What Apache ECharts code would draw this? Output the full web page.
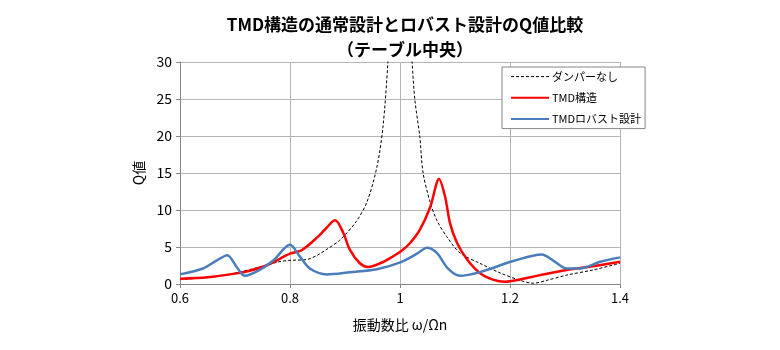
<!DOCTYPE html>
<html>
<head>
<meta charset="utf-8">
<script src="https://cdn.jsdelivr.net/npm/echarts@6/dist/echarts.min.js"></script>
<style>
  html, body { margin: 0; padding: 0; background: #fff; }
  #chart { width: 780px; height: 350px; }
</style>
</head>
<body>
<div id="chart"></div>
<script>
// 凡例名
const seriesNames = ['ダンパーなし', 'TMD構造', 'TMDロバスト設計'];

// ダンパーなし (共振で30を超える)
const noDamperX = [0.6, 0.65, 0.7, 0.74, 0.78, 0.8, 0.83, 0.85, 0.867, 0.89, 0.92, 0.94, 0.958, 0.969, 0.978, 0.99, 1.0,
    1.01, 1.022, 1.027, 1.036, 1.042, 1.055, 1.067, 1.085, 1.109, 1.145, 1.182, 1.218, 1.242, 1.267, 1.303, 1.351, 1.4];
const noDamperY = [0.6, 0.9, 1.5, 2.2, 3.0, 3.2, 3.3, 3.9, 4.7, 5.9, 8.4, 11.1, 15.8, 21.2, 29.9, 45, 60,
    45, 30, 24.9, 19.9, 15.0, 11.0, 8.6, 6.4, 4.2, 2.8, 1.5, 0.5, 0.1, 0.5, 1.2, 1.9, 2.8];

// TMD構造 (通常設計)
const tmdX = [0.6, 0.65, 0.7, 0.727, 0.76, 0.8, 0.822, 0.851, 0.864, 0.882, 0.897, 0.909, 0.927, 0.942, 0.964, 0.982,
    1.003, 1.018, 1.036, 1.055, 1.071, 1.082, 1.091, 1.104, 1.122, 1.145, 1.169, 1.191, 1.218, 1.255, 1.303, 1.351, 1.4];
const tmdY = [0.7, 0.9, 1.4, 1.8, 2.6, 4.1, 4.6, 6.4, 7.4, 8.6, 6.9, 4.6, 2.8, 2.3, 2.8, 3.5,
    4.5, 5.5, 7.3, 10.4, 14.2, 11.8, 8.2, 5.5, 3.3, 1.5, 0.6, 0.3, 0.6, 1.2, 1.9, 2.4, 3.0];

// TMDロバスト設計
const robustX = [0.6, 0.642, 0.667, 0.686, 0.703, 0.718, 0.745, 0.77, 0.8, 0.818, 0.836, 0.867, 0.909, 0.958,
    1.003, 1.031, 1.049, 1.067, 1.087, 1.109, 1.145, 1.206, 1.258, 1.278, 1.303, 1.327, 1.364, 1.4];
const robustY = [1.3, 2.1, 3.2, 3.9, 2.3, 1.1, 1.9, 3.2, 5.3, 3.7, 2.1, 1.3, 1.6, 2.0,
    3.0, 4.1, 4.9, 4.2, 2.1, 1.1, 1.6, 3.1, 4.0, 3.2, 2.1, 2.1, 3.0, 3.6];

const zip = (xs, ys) => xs.map((x, i) => [x, ys[i]]);

const font = '"Noto Sans CJK JP", "Noto Sans", sans-serif';
const chart = echarts.init(document.getElementById('chart'));

const option = {
    animation: false,
    textStyle: { fontFamily: font },
    title: {
        text: 'TMD構造の通常設計とロバスト設計のQ値比較\n（テーブル中央）',
        left: 400,
        textAlign: 'center',
        top: 7,
        textStyle: { fontSize: 17, fontWeight: 'bold', color: '#000', lineHeight: 25, fontFamily: font }
    },
    grid: { left: 180, right: 160, top: 62, bottom: 66 },
    legend: {
        orient: 'vertical',
        left: 502,
        top: 67,
        padding: [4, 4, 4, 8],
        itemWidth: 38,
        itemHeight: 14,
        itemGap: 10,
        backgroundColor: '#fff',
        borderColor: '#868686',
        borderWidth: 1,
        itemStyle: { opacity: 0 },
        textStyle: { fontSize: 11, color: '#000', padding: [0, 0, 0, -2] },
        data: [
            { name: seriesNames[0], lineStyle: { width: 1, type: [3, 2] } },
            { name: seriesNames[1] },
            { name: seriesNames[2] }
        ]
    },
    xAxis: {
        type: 'value',
        min: 0.6,
        max: 1.4,
        interval: 0.2,
        name: '振動数比 ω/Ωn',
        nameLocation: 'middle',
        nameGap: 34,
        nameTextStyle: { fontSize: 14, color: '#000' },
        axisLine: { lineStyle: { color: '#868686' } },
        axisTick: { length: 4, lineStyle: { color: '#868686' } },
        axisLabel: { fontSize: 13, color: '#000', margin: 8 },
        splitLine: { lineStyle: { color: '#b5b5b5' } }
    },
    yAxis: {
        type: 'value',
        min: 0,
        max: 30,
        interval: 5,
        name: 'Q値',
        nameLocation: 'middle',
        nameGap: 33,
        nameTextStyle: { fontSize: 14, color: '#000' },
        axisLine: { show: true, lineStyle: { color: '#868686' } },
        axisTick: { show: true, length: 4, lineStyle: { color: '#868686' } },
        axisLabel: { fontSize: 14, color: '#000', margin: 8 },
        splitLine: { lineStyle: { color: '#b5b5b5' } }
    },
    series: [
        {
            name: seriesNames[0],
            type: 'line',
            data: zip(noDamperX, noDamperY),
            symbol: 'none',
            smooth: 0.3,
            clip: true,
            color: '#000',
            lineStyle: { color: '#000', width: 1, type: [3, 2] },
            z: 2
        },
        {
            name: seriesNames[1],
            type: 'line',
            data: zip(tmdX, tmdY),
            symbol: 'none',
            smooth: 0.3,
            color: '#ff0000',
            lineStyle: { color: '#ff0000', width: 2.5 },
            z: 3
        },
        {
            name: seriesNames[2],
            type: 'line',
            data: zip(robustX, robustY),
            symbol: 'none',
            smooth: 0.3,
            color: '#4a7ebb',
            lineStyle: { color: '#4a7ebb', width: 2.5 },
            z: 4
        }
    ]
};

chart.setOption(option);
</script>
</body>
</html>
